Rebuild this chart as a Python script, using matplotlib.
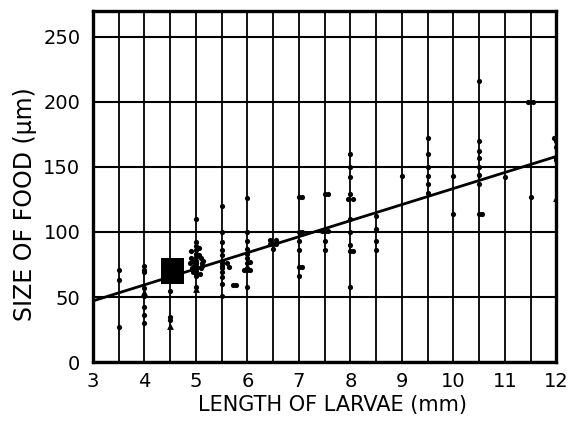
import numpy as np
import matplotlib
matplotlib.use("Agg")
import matplotlib.pyplot as plt

plt.rcParams['font.family'] = ['DejaVu Sans']

# larval length columns (mm) and food sizes read at each (um)
len_cols = [3.5, 4.0, 4.5, 5.0, 5.5, 6.0, 6.5, 7.0, 7.5, 8.0, 8.5,
            9.0, 9.5, 10.0, 10.5, 11.0, 11.5, 12.0]
size_cols = [
    [71, 63, 27],
    [74, 71, 69, 57, 51, 42, 36, 30],
    [55, 35, 32],
    [110, 92, 89, 86, 83, 81, 78, 76, 74, 72, 70, 68, 66, 58],
    [120, 100, 92, 86, 82, 78, 76, 74, 72, 69, 65, 60, 51],
    [126, 100, 93, 87, 83, 80, 76, 72, 71, 58],
    [91, 87],
    [127, 100, 93, 86, 73, 66],
    [129, 101, 93, 86],
    [160, 150, 142, 129, 110, 100, 90, 85, 58],
    [112, 102, 93, 86],
    [143],
    [172, 160, 150, 143, 137, 130],
    [143, 114],
    [216, 170, 162, 157, 150, 144, 137, 114],
    [142],
    [127],
    [172, 170, 165, 157, 155],
]

# dots lying a little off the column lines
side_x = [4.90, 5.10, 4.88, 5.12, 4.92, 5.10, 4.95, 5.08, 5.12, 4.90, 5.06,
          4.94, 5.06, 4.96, 5.14,
          5.60, 5.65, 5.72, 5.78, 5.94, 6.06, 6.06,
          6.44, 6.56, 6.44, 6.56, 7.06, 7.06, 7.06, 7.56, 7.44, 7.56,
          7.96, 8.05, 8.06, 10.56, 11.45, 11.55, 11.95]
side_y = [80, 80, 76, 76, 72, 72, 69, 68, 74, 85, 88,
          78, 82, 74, 78,
          76, 73, 59, 59, 71, 71, 77,
          94, 94, 91, 91, 127, 100, 73, 129, 101, 101,
          125, 125, 85, 114, 200, 200, 172]

# solid black patch of overlapping dots near 4.5 mm
blob_x = [4.41, 4.50, 4.58, 4.67, 4.41, 4.50, 4.58, 4.67,
          4.41, 4.50, 4.58, 4.67, 4.41, 4.50, 4.58, 4.67]
blob_y = [64, 64, 64, 64, 68, 68, 68, 68,
          72, 72, 72, 72, 76, 76, 76, 76]

# triangle marks
tri_x = [4.0, 4.5, 5.0, 12.0]
tri_y = [54, 28, 56, 126]

# fitted line
fit_x = [3, 12]
fit_y = [47, 158]

xs = [x for x, col in zip(len_cols, size_cols) for _ in col]
ys = [v for col in size_cols for v in col]

fig = plt.figure(figsize=(5.7, 4.25), dpi=100)
ax = fig.add_axes([0.163, 0.148, 0.813, 0.827])

ax.set_xlim(3, 12)
ax.set_ylim(0, 270)
ax.set_xticks(np.arange(3, 13, 1))
ax.set_xticklabels(['3', '4', '5', '6', '7', '8', '9', '10', '11', '12'])
ax.set_xticks(np.arange(3.5, 12, 1), minor=True)
ax.set_yticks(np.arange(0, 251, 50))

ax.grid(True, axis='x', which='both', color='black', lw=1.3)
ax.grid(True, axis='y', which='major', color='black', lw=1.5)
ax.set_axisbelow(True)

ax.plot(fit_x, fit_y, color='black', lw=2.0, zorder=3)
ax.scatter(xs, ys, s=14, color='black', zorder=4, linewidths=0)
ax.scatter(side_x, side_y, s=14, color='black', zorder=4, linewidths=0)
ax.scatter(blob_x, blob_y, s=42, marker='s', color='black', zorder=4, linewidths=0)
ax.scatter(tri_x, tri_y, s=24, marker='^', color='black', zorder=4, linewidths=0)

for sp in ax.spines.values():
    sp.set_linewidth(2.4)
    sp.set_zorder(5)

ax.tick_params(axis='both', which='both', length=0, labelsize=14)
ax.tick_params(axis='x', pad=7)
ax.tick_params(axis='y', pad=9)

ax.set_xlabel('LENGTH OF LARVAE (mm)', fontsize=15)
ax.set_ylabel('SIZE OF FOOD (μm)', fontsize=17)
ax.xaxis.set_label_coords(0.518, -0.095)
ax.yaxis.set_label_coords(-0.12, 0.45)

fig.savefig('out.png', dpi=100)
